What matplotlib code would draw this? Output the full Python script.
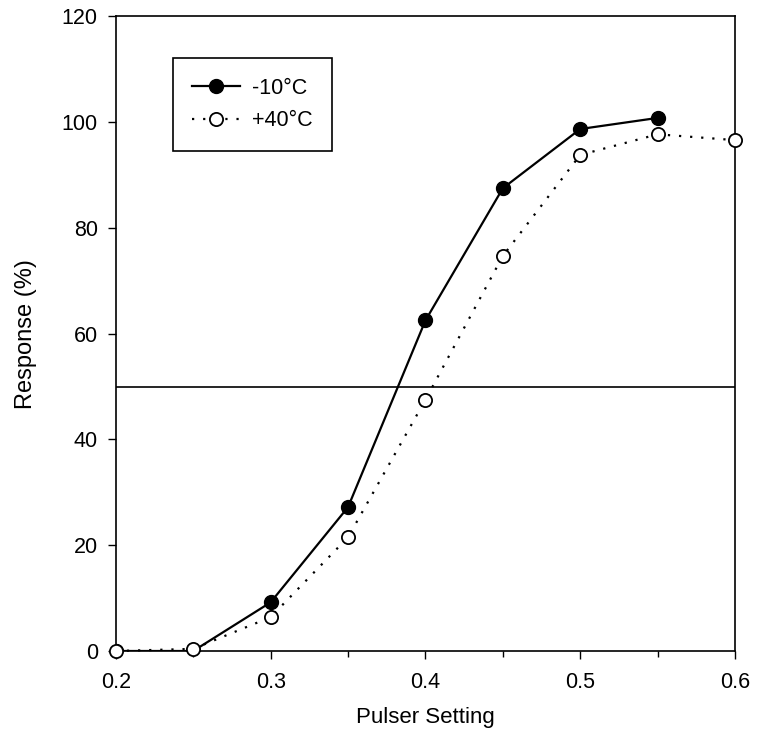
import matplotlib.pyplot as plt
from matplotlib.ticker import MultipleLocator

plt.rcParams['font.family'] = ['Liberation Sans', 'DejaVu Sans']

# Data
pulser = [0.2, 0.25, 0.3, 0.35, 0.4, 0.45, 0.5, 0.55, 0.6]
cold = [0, 0, 9.2, 27.2, 62.5, 87.5, 98.7, 100.8]          # -10 C
hot = [0, 0.4, 6.4, 21.5, 47.5, 74.7, 93.8, 97.7, 96.6]     # +40 C
threshold = 50

fig = plt.figure(figsize=(7.57, 7.44), dpi=100)
ax = fig.add_axes([0.153, 0.125, 0.818, 0.853])

ax.axhline(threshold, color='black', lw=1.2, zorder=1)
ax.plot(pulser[:len(cold)], cold, color='black', lw=1.6, marker='o',
        ms=10, mfc='black', mec='black', label='-10\u00b0C', zorder=2)
ax.plot(pulser, hot, color='black', lw=1.6, ls=(0, (1, 4)), marker='o',
        ms=9.5, mfc='white', mec='black', mew=1.3, label='+40\u00b0C', zorder=3,
        clip_on=False)

ax.set_xlim(0.2, 0.6)
ax.set_ylim(0, 120)
ax.set_xticks([0.2, 0.3, 0.4, 0.5, 0.6])
ax.xaxis.set_minor_locator(MultipleLocator(0.05))
ax.set_yticks([0, 20, 40, 60, 80, 100, 120])
ax.tick_params(direction='out', length=6, width=1, labelsize=15.5)
ax.tick_params(axis='x', which='major', pad=9)
ax.tick_params(axis='x', which='minor', direction='out', length=4, width=1)
ax.tick_params(axis='y', pad=7)
for sp in ax.spines.values():
    sp.set_linewidth(1.2)

ax.set_xlabel('Pulser Setting', fontsize=16, labelpad=10)
ax.set_ylabel('Response (%)', fontsize=17, labelpad=18)

leg = ax.legend(loc='upper left', bbox_to_anchor=(0.092, 0.934), fontsize=15.5,
                fancybox=False, edgecolor='black', framealpha=1,
                borderaxespad=0, handlelength=2.2, handletextpad=0.6,
                borderpad=0.9, labelspacing=0.55)
leg.get_frame().set_linewidth(1.2)

fig.savefig('out.png', dpi=100)
